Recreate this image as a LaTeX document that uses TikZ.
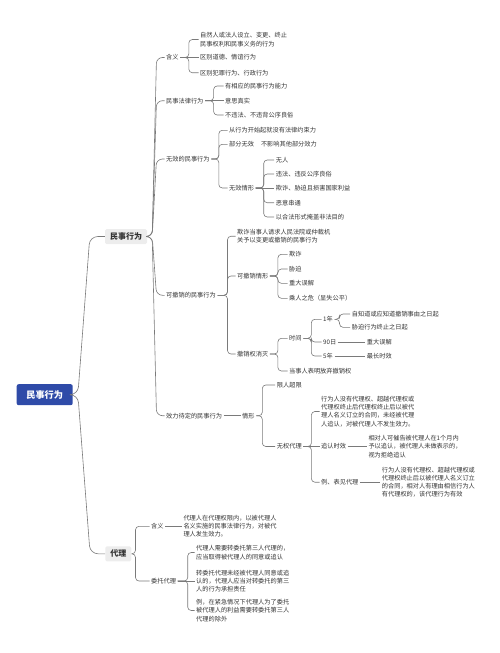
\documentclass[tikz,border=0pt]{standalone}
\usepackage{fontspec}
\setmainfont{Noto Sans CJK SC}
\definecolor{linegray}{HTML}{7A7A7A}
\definecolor{textgray}{HTML}{333333}
\definecolor{rootblue}{HTML}{2F4BA8}
\definecolor{boxgray}{HTML}{EDEDED}
\tikzset{
  link/.style={draw=linegray, line width=0.6pt, rounded corners=3.5pt},
  leaf/.style={anchor=west, inner sep=1.5pt, font=\fontsize{6.2}{8.3}\selectfont, text=textgray, align=left},
  topic/.style={fill=boxgray, rounded corners=1.5pt, font=\fontsize{8}{8}\selectfont\bfseries, text=textgray, inner xsep=5pt, inner ysep=0pt, minimum height=15pt},
  rootbox/.style={fill=rootblue, rounded corners=2pt, text=white, font=\fontsize{9.2}{9.2}\selectfont\bfseries, minimum width=56pt, minimum height=21pt}
}
\begin{document}
\begin{tikzpicture}[x=1pt, y=-1pt]
\useasboundingbox (0,0) rectangle (500,653);
% root and main topics
\node[rootbox] (root) at (44.7,394.7) {民事行为};
\node[topic] (mx) at (126,236.5) {民事行为};
\node[topic] (dl) at (118.3,553.8) {代理};

% 民事行为
\node[leaf] (hy) at (164.5,57.5) {含义};
\node[leaf] (fl) at (164.5,100.7) {民事法律行为};
\node[leaf] (wx) at (164.5,159) {无效的民事行为};
\node[leaf] (kc) at (164.5,295.3) {可撤销的民事行为};
\node[leaf] (xd) at (164.5,415.7) {效力待定的民事行为};

\node[leaf] (hy1) at (198.5,39.5) {自然人或法人设立、变更、终止\\民事权利和民事义务的行为};
\node[leaf] (hy2) at (198.5,57.5) {区别道德、情谊行为};
\node[leaf] (hy3) at (198.5,72.7) {区别犯罪行为、行政行为};

\node[leaf] (fl1) at (223.5,86) {有相应的民事行为能力};
\node[leaf] (fl2) at (223.5,100.7) {意思真实};
\node[leaf] (fl3) at (223.5,115) {不违法、不违背公序良俗};

\node[leaf] (wx1) at (227.5,130.3) {从行为开始起就没有法律约束力};
\node[leaf] (wx2) at (227.5,144.3) {部分无效\hspace{7pt}不影响其他部分效力};
\node[leaf] (wx3) at (227.5,188) {无效情形};
\node[leaf] (wq1) at (274.2,160) {无人};
\node[leaf] (wq2) at (274.2,174) {违法、违反公序良俗};
\node[leaf] (wq3) at (274.2,188) {欺诈、胁迫且损害国家利益};
\node[leaf] (wq4) at (274.2,202.7) {恶意串通};
\node[leaf] (wq5) at (274.2,217) {以合法形式掩盖非法目的};

\node[leaf] (kc1) at (235.5,236.2) {欺诈当事人请求人民法院或仲裁机\\关予以变更或撤销的民事行为};
\node[leaf] (kc2) at (235.5,276) {可撤销情形};
\node[leaf] (kc3) at (235.5,354) {撤销权消灭};
\node[leaf] (kq1) at (287.5,254.3) {欺诈};
\node[leaf] (kq2) at (287.5,269) {胁迫};
\node[leaf] (kq3) at (287.5,283.3) {重大误解};
\node[leaf] (kq4) at (287.5,298.3) {乘人之危（显失公平）};
\node[leaf] (sj) at (287.5,338.3) {时间};
\node[leaf] (fq) at (287.5,371) {当事人表明放弃撤销权};
\node[leaf] (y1) at (321.5,319.3) {1年};
\node[leaf] (d90) at (321.5,342) {90日};
\node[leaf] (y5) at (321.5,356) {5年};
\node[leaf] (y1a) at (350.2,314) {自知道或应知道撤销事由之日起};
\node[leaf] (y1b) at (350.2,327.3) {胁迫行为终止之日起};
\node[leaf] (zd) at (365.2,342) {重大误解};
\node[leaf] (zc) at (365.2,356) {最长时效};

\node[leaf] (qx) at (240.5,415.7) {情形};
\node[leaf] (xr) at (275.2,385) {限人超限};
\node[leaf] (wq) at (275.2,446.5) {无权代理};
\node[leaf] (wqa) at (319.5,411.5) {行为人没有代理权、超越代理权或\\代理权终止后代理权终止后以被代\\理人名义订立的合同，未经被代理\\人追认，对被代理人不发生效力。};
\node[leaf] (zr) at (319.5,446.5) {追认时效};
\node[leaf] (bj) at (319.5,482.2) {例、表见代理};
\node[leaf] (zra) at (366.8,446.5) {相对人可催告被代理人在1个月内\\予以追认，被代理人未做表示的，\\视为拒绝追认};
\node[leaf] (bja) at (380.2,482.2) {行为人没有代理权、超越代理权或\\代理权终止后以被代理人名义订立\\的合同，相对人有理由相信行为人\\有代理权的，该代理行为有效};

% 代理
\node[leaf] (dh) at (149.5,526.3) {含义};
\node[leaf] (wt) at (149.5,581) {委托代理};
\node[leaf] (dha) at (181.8,526.3) {代理人在代理权限内，以被代理人\\名义实施的民事法律行为，对被代\\理人发生效力。};
\node[leaf] (wt1) at (194.5,552.5) {代理人需要转委托第三人代理的，\\应当取得被代理人的同意或追认};
\node[leaf] (wt2) at (194.5,581) {转委托代理未经被代理人同意或追\\认的，代理人应当对转委托的第三\\人的行为承担责任};
\node[leaf] (wt3) at (194.5,610.5) {例，在紧急情况下代理人为了委托\\被代理人的利益需要转委托第三人\\代理的除外};

% connectors
\foreach \c in {mx,dl}
  \draw[link, rounded corners=8pt] (root.east) -- ++(5,0) -- ([xshift=-15pt]\c.west) -- (\c.west);
\foreach \c in {hy,fl,wx,kc,xd}
  \draw[link, rounded corners=6pt] (mx.east) -- ++(5,0) -- ([xshift=-8pt]\c.west) -- (\c.west);
\foreach \c in {hy1,hy3}
  \draw[link] (hy.east) -- ++(8.5,0) |- (\c.west);
\draw[link] (hy.east) -- (hy2.west);
\foreach \c in {fl1,fl3}
  \draw[link] (fl.east) -- ++(8.5,0) |- (\c.west);
\draw[link] (fl.east) -- (fl2.west);
\foreach \c in {wx1,wx2,wx3}
  \draw[link] (wx.east) -- ++(7.5,0) |- (\c.west);
\foreach \c in {wq1,wq2,wq4,wq5}
  \draw[link] (wx3.east) -- ++(8,0) |- (\c.west);
\draw[link] (wx3.east) -- (wq3.west);
\foreach \c in {kc1,kc2,kc3}
  \draw[link] (kc.east) -- ++(10,0) |- (\c.west);
\foreach \c in {kq1,kq2,kq3,kq4}
  \draw[link] (kc2.east) -- ++(8,0) |- (\c.west);
\foreach \c in {sj,fq}
  \draw[link] (kc3.east) -- ++(8,0) |- (\c.west);
\foreach \c in {y1,d90,y5}
  \draw[link] (sj.east) -- ++(8,0) |- (\c.west);
\foreach \c in {y1a,y1b}
  \draw[link] (y1.east) -- ++(5,0) |- (\c.west);
\draw[link] (d90.east) -- (zd.west);
\draw[link] (y5.east) -- (zc.west);
\draw[link] (xd.east) -- (qx.west);
\foreach \c in {xr,wq}
  \draw[link] (qx.east) -- ++(6,0) |- (\c.west);
\foreach \c in {wqa,bj}
  \draw[link] (wq.east) -- ++(8,0) |- (\c.west);
\draw[link] (wq.east) -- (zr.west);
\draw[link] (zr.east) -- (zra.west);
\draw[link] (bj.east) -- (bja.west);
\foreach \c in {dh,wt}
  \draw[link] (dl.east) -- ++(4,0) |- (\c.west);
\draw[link] (dh.east) -- (dha.west);
\foreach \c in {wt1,wt3}
  \draw[link] (wt.east) -- ++(10,0) |- (\c.west);
\draw[link] (wt.east) -- (wt2.west);
\end{tikzpicture}
\end{document}
